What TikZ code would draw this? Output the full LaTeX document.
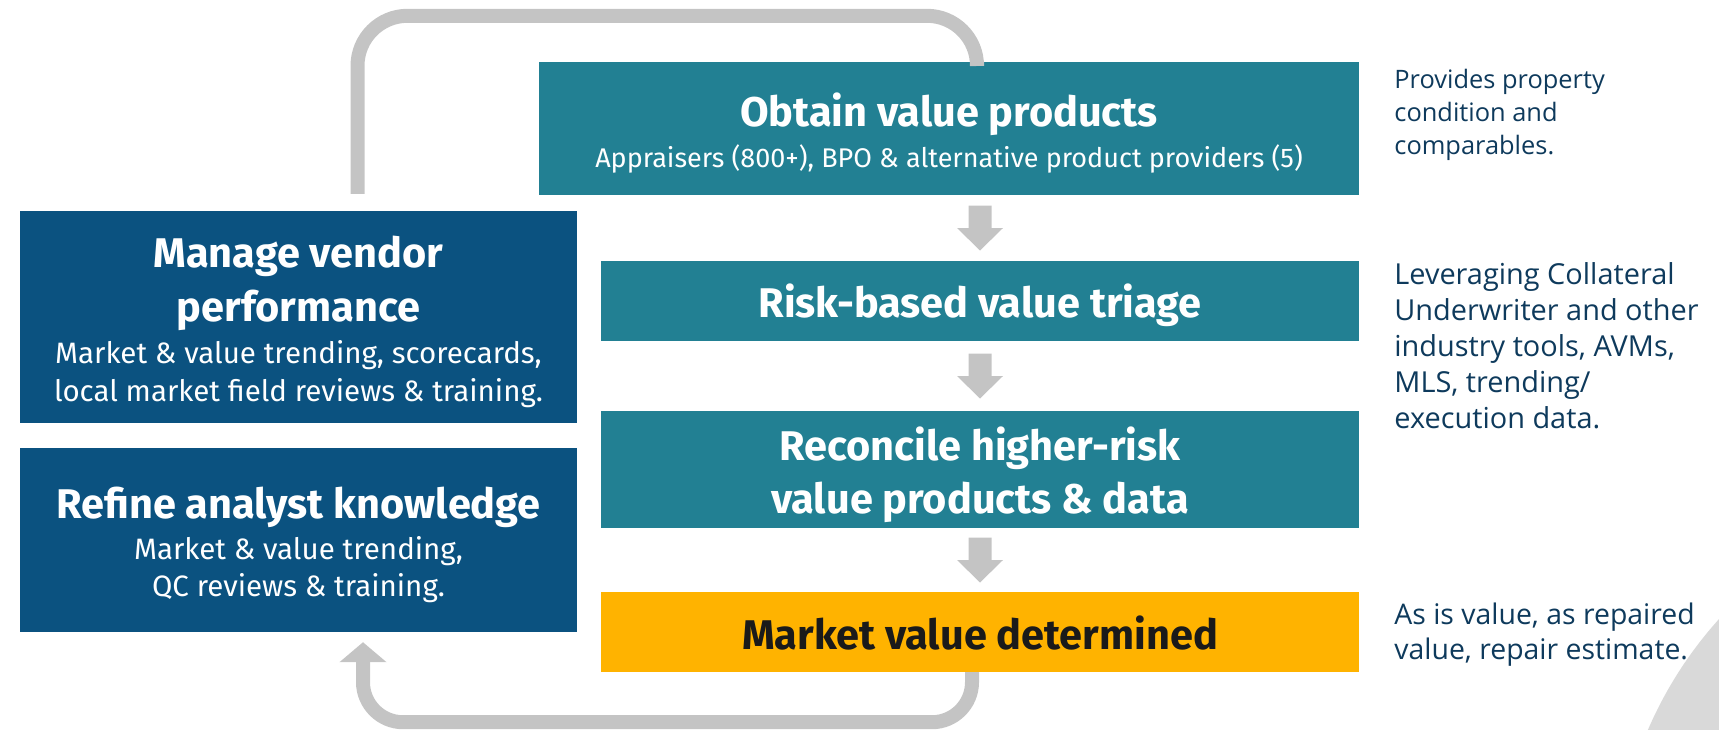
\documentclass[tikz,border=0pt]{standalone}
\usepackage{fontspec}
\setmainfont{Fira Sans}
\newfontfamily\sidefont{Open Sans}
\usetikzlibrary{calc,arrows.meta}
\definecolor{teal1}{RGB}{34,128,147}
\definecolor{navy1}{RGB}{11,82,128}
\definecolor{gold1}{RGB}{255,179,0}
\definecolor{grey1}{RGB}{196,196,196}
\definecolor{grey2}{RGB}{217,217,217}
\definecolor{ink1}{RGB}{14,58,92}
\definecolor{dark1}{RGB}{26,26,26}
\newcommand{\subf}{\fontsize{29.5}{38}\selectfont\mdseries}
\newcommand{\subfs}{\fontsize{27}{38}\selectfont\mdseries}
\newcommand{\flowarrow}[2]{%
  \fill[grey1] let \p1=(#1.south), \p2=(#2.north), \n1={(\y1+\y2)/2} in
   (\x2-11.5pt,\n1+22.5pt) -- (\x2+11.5pt,\n1+22.5pt) -- (\x2+11.5pt,\n1) --
   (\x2+23pt,\n1) -- (\x2,\n1-22.5pt) -- (\x2-23pt,\n1) -- (\x2-11.5pt,\n1) -- cycle;}
\begin{document}
\begin{tikzpicture}[x=1pt,y=-1pt,
  box/.style={rectangle, inner sep=0pt},
  tealbox/.style={box, fill=teal1, minimum width=758pt},
  navybox/.style={box, fill=navy1, minimum width=557pt},
  boxtext/.style={inner sep=0pt, align=center, text=white,
    font=\fontsize{41.5}{38}\selectfont\bfseries},
  side/.style={inner sep=0pt, align=left, anchor=north west, text=ink1},
  looppath/.style={draw=grey1, line width=14pt}]
\useasboundingbox (0,0) rectangle (1719,729);
\begin{scope}
  \clip (0,0) rectangle (1719,729);
  \fill[grey2] (2020,890) circle (405);
\end{scope}
% process boxes
\node[box, fill=teal1, minimum width=820pt, minimum height=133pt] (obtain) at (949,128.5) {};
\node[tealbox, minimum height=80pt] (risk) at (980,301) {};
\node[tealbox, minimum height=117pt] (reconcile) at (980,469.5) {};
\node[box, fill=gold1, minimum width=758pt, minimum height=80pt] (market) at (980,632) {};
% feedback boxes
\node[navybox, minimum height=212pt] (manage) at (298.5,317) {};
\node[navybox, minimum height=184pt] (refine) at (298.5,540) {};
% box texts
\node[boxtext] (obtainT) at ($(obtain.center)+(0,4.4)$)
  {Obtain value products\\[3pt]{\subfs Appraisers (800+), BPO \& alternative product providers (5)}};
\node[boxtext] (riskT) at ($(risk.center)+(0,4.4)$) {Risk-based value triage};
\node[boxtext] (reconcileT) at ($(reconcile.center)+(0,5)$)
  {Reconcile higher-risk\\[11pt]value products \& data};
\node[boxtext, text=dark1] (marketT) at ($(market.center)+(0,1.5)$) {Market value determined};
\node[boxtext] (manageT) at ($(manage.center)+(0,5)$)
  {Manage vendor\\[13pt]performance\\[4pt]{\subf Market \& value trending, scorecards,}\\{\subf local market field reviews \& training.}};
\node[boxtext] (refineT) at ($(refine.center)+(0,4.5)$)
  {Refine analyst knowledge\\[3pt]{\subf Market \& value trending,}\\[-1pt]{\subf QC reviews \& training.}};
% side notes
\node[side, font=\sidefont\fontsize{25.4}{33}\selectfont] (noteA) at ($(obtain.north east)+(35,7)$)
  {Provides property\\condition and\\comparables.};
\node[side, font=\sidefont\fontsize{28.9}{36}\selectfont] (noteB) at ($(risk.north east)+(35,2)$)
  {Leveraging Collateral\\Underwriter and other\\industry tools, AVMs,\\MLS, trending/\\execution data.};
\node[side, font=\sidefont\fontsize{28.4}{35}\selectfont] (noteC) at ($(market.north east)+(35,11)$)
  {As is value, as repaired\\value, repair estimate.};
% down arrows
\flowarrow{obtain}{risk}
\flowarrow{risk}{reconcile}
\flowarrow{reconcile}{market}
% feedback loops
\draw[looppath, rounded corners=50pt] ($(manage.north)+(59,-17)$) -- ($(manage.north)+(59,-195)$) -| ($(obtain.north)+(28,0)$);
\draw[looppath, rounded corners=40pt, -{Triangle[width=46pt,length=20pt]}]
  ($(market.south)+(-8,0)$) -- ($(market.south)+(-8,50)$) -| ($(refine.south)+(64.5,10)$);
\end{tikzpicture}
\end{document}
